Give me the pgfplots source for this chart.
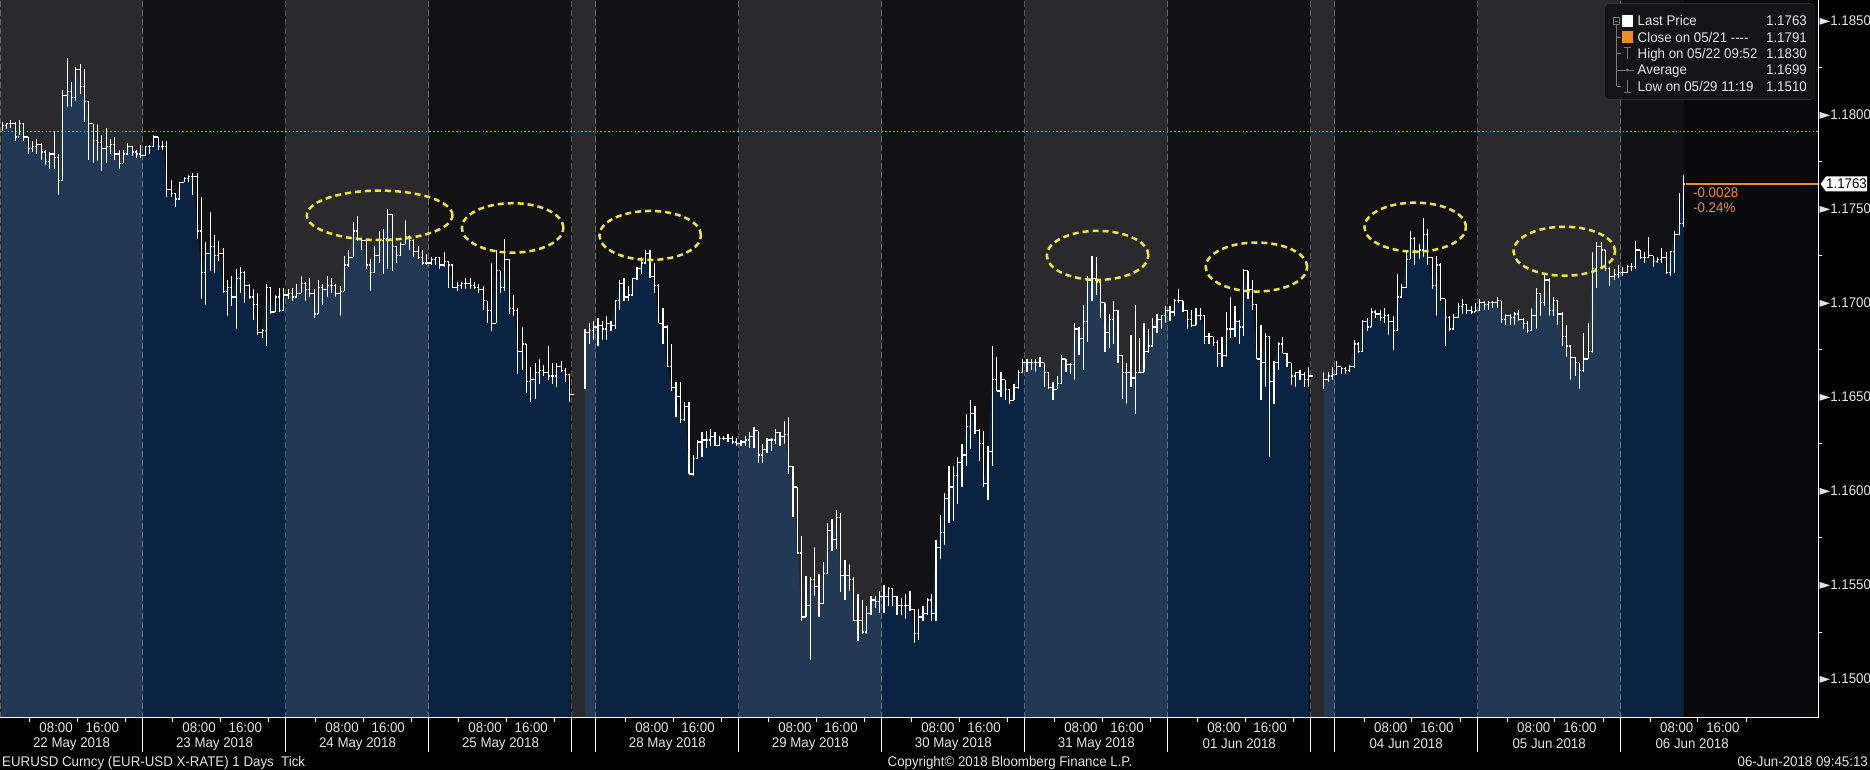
\documentclass[border=0pt]{standalone}
\usepackage{fontspec}
\setmainfont{Liberation Sans}[FakeStretch=0.95]
\newfontfamily\sym{DejaVu Sans}
\usepackage{pgfplots}
\pgfplotsset{compat=1.18}
\usepackage{pgfplotstable}

\definecolor{bgdark}{RGB}{18,18,21}
\definecolor{bgend}{RGB}{10,10,13}
\definecolor{mtn}{RGB}{10,35,66}
\definecolor{bbgorange}{RGB}{236,142,40}
\definecolor{ring}{RGB}{240,228,60}
\definecolor{txt}{RGB}{228,228,228}
\definecolor{legbg}{RGB}{20,20,24}
\definecolor{legline}{RGB}{62,62,68}
\definecolor{treegray}{RGB}{120,120,126}

% close tick of a bar plus the open tick of the next bar (open = previous close)
\pgfdeclareplotmark{oc}{%
  \pgfpathmoveto{\pgfqpoint{0pt}{0pt}}\pgfpathlineto{\pgfqpoint{1.9pt}{0pt}}%
  \pgfpathmoveto{\pgfqpoint{2.45pt}{0pt}}\pgfpathlineto{\pgfqpoint{4.33pt}{0pt}}%
  \pgfusepathqstroke}

% x = bar slot (33 slots per day, weekends squeezed), h/l/c = high, low, close
\pgfplotstableread{
x h l c
0.5 1.1796 1.1791 1.1794
1.5 1.1795 1.1792 1.1795
2.5 1.1797 1.1793 1.1795
3.5 1.1796 1.1786 1.1788
4.5 1.1797 1.1789 1.1795
5.5 1.1795 1.1786 1.1788
6.5 1.1788 1.1779 1.1782
7.5 1.1786 1.1780 1.1783
8.5 1.1787 1.1779 1.1784
9.5 1.1785 1.1776 1.1780
10.5 1.1781 1.1773 1.1775
11.5 1.1780 1.1771 1.1779
12.5 1.1791 1.1771 1.1777
13.5 1.1779 1.1757 1.1765
14.5 1.1813 1.1765 1.1810
15.5 1.1830 1.1804 1.1812
16.5 1.1817 1.1804 1.1809
17.5 1.1825 1.1807 1.1824
18.5 1.1827 1.1811 1.1815
19.5 1.1824 1.1796 1.1807
20.5 1.1807 1.1776 1.1795
21.5 1.1795 1.1774 1.1786
22.5 1.1795 1.1775 1.1785
23.5 1.1789 1.1770 1.1782
24.5 1.1793 1.1774 1.1783
25.5 1.1787 1.1779 1.1784
26.5 1.1788 1.1776 1.1779
27.5 1.1781 1.1771 1.1774
28.5 1.1781 1.1774 1.1779
29.5 1.1785 1.1779 1.1783
30.5 1.1783 1.1778 1.1780
31.5 1.1781 1.1777 1.1779
32.5 1.1784 1.1777 1.1778
33.5 1.1783 1.1778 1.1783
34.5 1.1784 1.1779 1.1783
35.5 1.1789 1.1783 1.1788
36.5 1.1788 1.1781 1.1783
37.5 1.1786 1.1781 1.1783
38.5 1.1786 1.1756 1.1760
39.5 1.1765 1.1756 1.1758
40.5 1.1758 1.1751 1.1755
41.5 1.1764 1.1755 1.1764
42.5 1.1767 1.1764 1.1766
43.5 1.1768 1.1764 1.1767
44.5 1.1769 1.1757 1.1767
45.5 1.1769 1.1734 1.1738
46.5 1.1756 1.1702 1.1716
47.5 1.1732 1.1699 1.1726
48.5 1.1748 1.1717 1.1730
49.5 1.1736 1.1716 1.1725
50.5 1.1733 1.1722 1.1726
51.5 1.1729 1.1705 1.1706
52.5 1.1712 1.1693 1.1708
53.5 1.1714 1.1698 1.1703
54.5 1.1718 1.1686 1.1713
55.5 1.1719 1.1705 1.1716
56.5 1.1717 1.1700 1.1709
57.5 1.1710 1.1702 1.1703
58.5 1.1707 1.1691 1.1699
59.5 1.1705 1.1683 1.1684
60.5 1.1686 1.1681 1.1685
61.5 1.1710 1.1677 1.1708
62.5 1.1708 1.1694 1.1695
63.5 1.1704 1.1695 1.1703
64.5 1.1708 1.1695 1.1696
65.5 1.1708 1.1696 1.1704
66.5 1.1707 1.1702 1.1705
67.5 1.1708 1.1701 1.1703
68.5 1.1710 1.1703 1.1705
69.5 1.1714 1.1705 1.1710
70.5 1.1711 1.1701 1.1707
71.5 1.1713 1.1703 1.1705
72.5 1.1707 1.1692 1.1694
73.5 1.1712 1.1694 1.1708
74.5 1.1710 1.1699 1.1707
75.5 1.1714 1.1703 1.1709
76.5 1.1713 1.1705 1.1709
77.5 1.1710 1.1703 1.1705
78.5 1.1709 1.1693 1.1706
79.5 1.1725 1.1706 1.1720
80.5 1.1728 1.1719 1.1724
81.5 1.1743 1.1724 1.1738
82.5 1.1746 1.1733 1.1734
83.5 1.1735 1.1728 1.1733
84.5 1.1733 1.1718 1.1720
85.5 1.1723 1.1706 1.1716
86.5 1.1730 1.1716 1.1725
87.5 1.1738 1.1721 1.1733
88.5 1.1739 1.1715 1.1734
89.5 1.1750 1.1718 1.1747
90.5 1.1747 1.1717 1.1730
91.5 1.1730 1.1721 1.1725
92.5 1.1732 1.1725 1.1731
93.5 1.1744 1.1731 1.1735
94.5 1.1736 1.1728 1.1733
95.5 1.1734 1.1724 1.1727
96.5 1.1730 1.1723 1.1724
97.5 1.1728 1.1720 1.1721
98.5 1.1726 1.1720 1.1721
99.5 1.1724 1.1720 1.1723
100.5 1.1724 1.1720 1.1724
101.5 1.1724 1.1718 1.1720
102.5 1.1727 1.1719 1.1722
103.5 1.1722 1.1708 1.1720
104.5 1.1720 1.1708 1.1708
105.5 1.1711 1.1706 1.1709
106.5 1.1711 1.1707 1.1710
107.5 1.1713 1.1707 1.1710
108.5 1.1713 1.1707 1.1709
109.5 1.1711 1.1707 1.1708
110.5 1.1710 1.1705 1.1707
111.5 1.1709 1.1696 1.1701
112.5 1.1701 1.1689 1.1696
113.5 1.1721 1.1685 1.1689
114.5 1.1728 1.1689 1.1717
115.5 1.1717 1.1705 1.1708
116.5 1.1734 1.1706 1.1723
117.5 1.1723 1.1694 1.1697
118.5 1.1704 1.1693 1.1696
119.5 1.1697 1.1662 1.1674
120.5 1.1687 1.1664 1.1678
121.5 1.1678 1.1652 1.1658
122.5 1.1666 1.1647 1.1659
123.5 1.1668 1.1649 1.1663
124.5 1.1670 1.1657 1.1664
125.5 1.1667 1.1661 1.1663
126.5 1.1677 1.1659 1.1661
127.5 1.1668 1.1657 1.1661
128.5 1.1668 1.1655 1.1666
129.5 1.1669 1.1663 1.1664
130.5 1.1665 1.1658 1.1662
131.5 1.1662 1.1647 1.1651
}\wkA

\pgfplotstableread{
x h l c
135 1.1686 1.1654 1.1684
136 1.1689 1.1678 1.1685
137 1.1690 1.1680 1.1687
138 1.1692 1.1677 1.1688
139 1.1690 1.1680 1.1686
140 1.1693 1.1680 1.1689
141 1.1690 1.1685 1.1688
142 1.1701 1.1686 1.1701
143 1.1712 1.1696 1.1710
144 1.1713 1.1701 1.1703
145 1.1709 1.1701 1.1704
146 1.1713 1.1704 1.1713
147 1.1719 1.1712 1.1718
148 1.1724 1.1715 1.1721
149 1.1728 1.1721 1.1726
150 1.1728 1.1713 1.1714
151 1.1721 1.1705 1.1709
152 1.1710 1.1689 1.1689
153 1.1697 1.1678 1.1687
154 1.1688 1.1666 1.1666
155 1.1678 1.1653 1.1655
156 1.1658 1.1639 1.1650
157 1.1658 1.1636 1.1638
158 1.1647 1.1637 1.1645
159 1.1647 1.1609 1.1609
160 1.1619 1.1608 1.1617
161 1.1627 1.1617 1.1626
162 1.1631 1.1618 1.1627
163 1.1632 1.1623 1.1627
164 1.1633 1.1624 1.1629
165 1.1631 1.1624 1.1624
166 1.1629 1.1624 1.1628
167 1.1629 1.1627 1.1628
168 1.1630 1.1626 1.1628
169 1.1629 1.1625 1.1626
170 1.1628 1.1624 1.1625
171 1.1627 1.1624 1.1626
172 1.1629 1.1624 1.1627
173 1.1631 1.1623 1.1629
174 1.1634 1.1623 1.1632
175 1.1632 1.1615 1.1619
176 1.1625 1.1615 1.1622
177 1.1628 1.1620 1.1627
178 1.1628 1.1621 1.1627
179 1.1633 1.1625 1.1631
180 1.1631 1.1624 1.1629
181 1.1637 1.1625 1.1630
182 1.1639 1.1609 1.1613
183 1.1613 1.1586 1.1602
184 1.1602 1.1567 1.1567
185 1.1576 1.1531 1.1533
186 1.1555 1.1533 1.1539
187 1.1554 1.1510 1.1553
188 1.1570 1.1544 1.1549
189 1.1556 1.1533 1.1540
190 1.1562 1.1540 1.1556
191 1.1583 1.1556 1.1579
192 1.1585 1.1568 1.1574
193 1.1590 1.1569 1.1586
194 1.1588 1.1546 1.1555
195 1.1563 1.1542 1.1555
196 1.1561 1.1547 1.1553
197 1.1554 1.1531 1.1531
198 1.1545 1.1520 1.1531
199 1.1542 1.1524 1.1525
200 1.1539 1.1524 1.1535
201 1.1544 1.1534 1.1542
202 1.1544 1.1538 1.1541
203 1.1547 1.1535 1.1544
204 1.1550 1.1535 1.1544
205 1.1549 1.1539 1.1548
206 1.1548 1.1539 1.1544
207 1.1544 1.1534 1.1539
208 1.1543 1.1534 1.1539
209 1.1545 1.1532 1.1539
210 1.1547 1.1536 1.1537
211 1.1537 1.1519 1.1524
212 1.1537 1.1521 1.1533
213 1.1539 1.1531 1.1535
214 1.1543 1.1534 1.1542
215 1.1545 1.1531 1.1535
216 1.1574 1.1531 1.1570
217 1.1587 1.1564 1.1578
218 1.1599 1.1571 1.1596
219 1.1613 1.1583 1.1602
220 1.1613 1.1584 1.1608
221 1.1618 1.1593 1.1615
222 1.1625 1.1602 1.1619
223 1.1641 1.1613 1.1634
224 1.1648 1.1622 1.1641
225 1.1645 1.1630 1.1632
226 1.1633 1.1616 1.1625
227 1.1632 1.1602 1.1604
228 1.1624 1.1595 1.1621
229 1.1677 1.1613 1.1659
230 1.1671 1.1653 1.1653
231 1.1663 1.1650 1.1659
232 1.1659 1.1648 1.1654
233 1.1654 1.1646 1.1648
234 1.1657 1.1648 1.1655
235 1.1664 1.1654 1.1663
236 1.1670 1.1663 1.1668
237 1.1670 1.1663 1.1668
238 1.1670 1.1664 1.1668
239 1.1670 1.1663 1.1668
240 1.1671 1.1666 1.1668
241 1.1668 1.1655 1.1663
242 1.1663 1.1654 1.1655
243 1.1658 1.1648 1.1654
244 1.1661 1.1654 1.1657
245 1.1672 1.1657 1.1670
246 1.1670 1.1663 1.1667
247 1.1668 1.1662 1.1667
248 1.1689 1.1659 1.1686
249 1.1687 1.1672 1.1681
250 1.1699 1.1664 1.1690
251 1.1714 1.1679 1.1712
252 1.1725 1.1701 1.1713
253 1.1724 1.1704 1.1711
254 1.1711 1.1692 1.1700
255 1.1700 1.1674 1.1684
256 1.1694 1.1676 1.1691
257 1.1701 1.1678 1.1696
258 1.1696 1.1668 1.1672
259 1.1672 1.1649 1.1663
260 1.1668 1.1646 1.1663
261 1.1683 1.1655 1.1660
262 1.1699 1.1641 1.1663
263 1.1681 1.1663 1.1663
264 1.1689 1.1663 1.1674
265 1.1686 1.1673 1.1677
266 1.1692 1.1677 1.1687
267 1.1694 1.1684 1.1691
268 1.1693 1.1686 1.1693
269 1.1698 1.1689 1.1696
270 1.1698 1.1690 1.1695
271 1.1702 1.1693 1.1701
272 1.1707 1.1700 1.1701
273 1.1701 1.1695 1.1696
274 1.1696 1.1686 1.1691
275 1.1696 1.1687 1.1688
276 1.1697 1.1688 1.1693
277 1.1697 1.1691 1.1693
278 1.1693 1.1678 1.1682
279 1.1684 1.1678 1.1682
280 1.1682 1.1677 1.1679
281 1.1680 1.1666 1.1673
282 1.1682 1.1666 1.1672
283 1.1695 1.1671 1.1686
284 1.1703 1.1681 1.1686
285 1.1698 1.1682 1.1690
286 1.1691 1.1678 1.1687
287 1.1718 1.1682 1.1717
288 1.1717 1.1702 1.1707
289 1.1712 1.1696 1.1699
290 1.1699 1.1670 1.1670
291 1.1688 1.1648 1.1668
292 1.1684 1.1655 1.1682
293 1.1682 1.1618 1.1658
294 1.1669 1.1646 1.1668
295 1.1679 1.1664 1.1678
296 1.1682 1.1673 1.1673
297 1.1673 1.1666 1.1668
298 1.1668 1.1656 1.1661
299 1.1663 1.1655 1.1663
300 1.1664 1.1659 1.1662
301 1.1663 1.1655 1.1659
302 1.1666 1.1655 1.1661
}\wkB

\pgfplotstableread{
x h l c
305.5 1.1663 1.1654 1.1659
306.5 1.1663 1.1658 1.1661
307.5 1.1666 1.1659 1.1662
308.5 1.1669 1.1662 1.1666
309.5 1.1666 1.1662 1.1665
310.5 1.1666 1.1662 1.1664
311.5 1.1667 1.1663 1.1666
312.5 1.1680 1.1665 1.1678
313.5 1.1679 1.1673 1.1674
314.5 1.1691 1.1674 1.1690
315.5 1.1692 1.1685 1.1687
316.5 1.1697 1.1687 1.1695
317.5 1.1696 1.1692 1.1694
318.5 1.1696 1.1690 1.1692
319.5 1.1697 1.1689 1.1693
320.5 1.1694 1.1683 1.1690
321.5 1.1693 1.1675 1.1685
322.5 1.1715 1.1685 1.1703
323.5 1.1710 1.1703 1.1708
324.5 1.1727 1.1708 1.1723
325.5 1.1738 1.1723 1.1734
326.5 1.1735 1.1720 1.1727
327.5 1.1731 1.1723 1.1728
328.5 1.1745 1.1724 1.1736
329.5 1.1739 1.1720 1.1724
330.5 1.1724 1.1707 1.1709
331.5 1.1725 1.1693 1.1720
332.5 1.1721 1.1701 1.1702
333.5 1.1702 1.1677 1.1692
334.5 1.1693 1.1685 1.1686
335.5 1.1694 1.1686 1.1692
336.5 1.1700 1.1692 1.1698
337.5 1.1702 1.1694 1.1699
338.5 1.1699 1.1694 1.1696
339.5 1.1698 1.1694 1.1695
340.5 1.1700 1.1695 1.1696
341.5 1.1702 1.1696 1.1700
342.5 1.1701 1.1696 1.1699
343.5 1.1701 1.1696 1.1700
344.5 1.1701 1.1697 1.1700
345.5 1.1703 1.1697 1.1701
346.5 1.1701 1.1689 1.1691
347.5 1.1694 1.1688 1.1693
348.5 1.1694 1.1688 1.1692
349.5 1.1695 1.1688 1.1694
350.5 1.1696 1.1690 1.1691
351.5 1.1692 1.1686 1.1689
352.5 1.1690 1.1684 1.1685
353.5 1.1697 1.1685 1.1693
354.5 1.1708 1.1686 1.1705
355.5 1.1705 1.1693 1.1700
356.5 1.1716 1.1698 1.1712
357.5 1.1713 1.1693 1.1696
358.5 1.1703 1.1693 1.1701
359.5 1.1701 1.1688 1.1694
360.5 1.1695 1.1677 1.1682
361.5 1.1688 1.1671 1.1677
362.5 1.1677 1.1659 1.1671
363.5 1.1671 1.1661 1.1668
364.5 1.1668 1.1654 1.1664
365.5 1.1684 1.1663 1.1670
366.5 1.1689 1.1670 1.1674
367.5 1.1727 1.1673 1.1718
368.5 1.1732 1.1708 1.1730
369.5 1.1732 1.1718 1.1728
370.5 1.1728 1.1717 1.1718
371.5 1.1719 1.1709 1.1714
372.5 1.1718 1.1712 1.1715
373.5 1.1720 1.1713 1.1716
374.5 1.1719 1.1714 1.1716
375.5 1.1720 1.1716 1.1719
376.5 1.1721 1.1717 1.1719
377.5 1.1733 1.1718 1.1728
378.5 1.1728 1.1723 1.1724
379.5 1.1727 1.1721 1.1724
380.5 1.1735 1.1724 1.1725
381.5 1.1725 1.1719 1.1722
382.5 1.1724 1.1721 1.1723
383.5 1.1729 1.1721 1.1724
384.5 1.1727 1.1715 1.1716
385.5 1.1727 1.1714 1.1727
386.5 1.1738 1.1716 1.1736
387.5 1.1758 1.1736 1.1742
388.5 1.1768 1.1740 1.1763
}\wkC

\begin{document}
\begin{tikzpicture}[font=\fontsize{14}{16}\selectfont]
\useasboundingbox (0,0) rectangle (1870pt,770pt);
\fill[black] (0,0) rectangle (1870pt,770pt);

\begin{axis}[
  at={(0pt,52pt)}, anchor=south west,
  scale only axis, width=1818pt, height=718pt,
  xmin=0, xmax=419.55,
  ymin=1.14793, ymax=1.18608,
  axis x line*=bottom, axis y line*=right,
  axis line style={white, line width=1pt},
  axis on top, clip mode=individual,
  tick align=outside,
  major tick length=0pt, minor tick length=4pt,
  tick style={white, line width=0.8pt},
  every tick label/.append style={text=txt, font=\fontsize{14}{16}\selectfont},
  xtick={12.95,23.6,45.95,56.6,78.95,89.6,111.95,122.6,150.45,161.1,183.45,194.1,
         216.45,227.1,249.45,260.1,282.45,293.1,320.95,331.6,353.95,364.6,386.95,397.6},
  xticklabels={08:00,16:00,08:00,16:00,08:00,16:00,08:00,16:00,08:00,16:00,08:00,16:00,
               08:00,16:00,08:00,16:00,08:00,16:00,08:00,16:00,08:00,16:00,08:00,16:00},
  minor xtick={6.8,17.8,29,39.8,50.8,62,72.8,83.8,95,105.8,116.8,128,
               144.3,155.3,166.5,177.3,188.3,199.5,210.3,221.3,232.5,243.3,254.3,265.5,
               276.3,287.3,298.5,314.8,325.8,337,347.8,358.8,370,380.8,391.8,403},
  xticklabel style={anchor=center, yshift=-10pt},
  extra x ticks={16.5,49.5,82.5,115.5,154,187,220,253,286,324.5,357.5,390.5},
  extra x tick labels={22 May 2018,23 May 2018,24 May 2018,25 May 2018,28 May 2018,29 May 2018,
                       30 May 2018,31 May 2018,01 Jun 2018,04 Jun 2018,05 Jun 2018,06 Jun 2018},
  extra x tick style={tick label style={yshift=-16pt}},
  ytick={1.15,1.155,1.16,1.165,1.17,1.175,1.18,1.185},
  yticklabels={{\sym ►}1.1500,{\sym ►}1.1550,{\sym ►}1.1600,{\sym ►}1.1650,
               {\sym ►}1.1700,{\sym ►}1.1750,{\sym ►}1.1800,{\sym ►}1.1850},
  minor ytick={1.1525,1.1575,1.1625,1.1675,1.1725,1.1775,1.1825},
  yticklabel style={anchor=west, xshift=-2pt},
]

% backgrounds
\fill[bgdark] (axis cs:0,1.14793) rectangle (axis cs:419.55,1.18608);
\fill[bgend] (axis cs:388.6,1.14793) rectangle (axis cs:419.55,1.18608);

% mountain under the close
\addplot[draw=none, fill=mtn] table[x=x, y=c] {\wkA} \closedcycle;
\addplot[draw=none, fill=mtn] table[x=x, y=c] {\wkB} \closedcycle;
\addplot[draw=none, fill=mtn] table[x=x, y=c] {\wkC} \closedcycle;

% alternate day shading
\pgfplotsinvokeforeach{0/33,66/99,132/137.5,170.5/203.5,236.5/269.5,302.5/308,341/374}{
  \pgfplotsextra{\foreach \a/\b in {#1} {
    \fill[white, opacity=0.1] (axis cs:\a,1.14793) rectangle (axis cs:\b,1.18608);}}
}
% day separators
\pgfplotsinvokeforeach{0,33,66,99,132,137.5,170.5,203.5,236.5,269.5,302.5,308,341,374}{
  \draw[white, opacity=0.3, line width=1pt, dash pattern=on 6pt off 3pt]
    (axis cs:#1,1.14793) -- (axis cs:#1,1.18608);
}
% below-axis day dividers
\pgfplotsinvokeforeach{33,66,99,132,137.5,170.5,203.5,236.5,269.5,302.5,308,341,374}{
  \draw[white, line width=1pt] (axis cs:#1,1.14793) -- ++(0pt,-34pt);
}

% close on 05/21
\addplot[bbgorange, line width=1.6pt, dash pattern=on 1.6pt off 2.2pt]
  coordinates {(0,1.1791) (419.55,1.1791)};

% bars: high-low line, close tick (and next open tick)
\addplot[white, only marks, mark=oc, mark options={line width=1.25pt},
  error bars/.cd, y dir=both, y explicit, error mark=none,
  error bar style={line width=1.25pt, white}]
  table[x=x, y=c, y error plus expr=\thisrow{h}-\thisrow{c},
        y error minus expr=\thisrow{c}-\thisrow{l}] {\wkA};
\addplot[white, only marks, mark=oc, mark options={line width=1.25pt},
  error bars/.cd, y dir=both, y explicit, error mark=none,
  error bar style={line width=1.25pt, white}]
  table[x=x, y=c, y error plus expr=\thisrow{h}-\thisrow{c},
        y error minus expr=\thisrow{c}-\thisrow{l}] {\wkB};
\addplot[white, only marks, mark=oc, mark options={line width=1.25pt},
  error bars/.cd, y dir=both, y explicit, error mark=none,
  error bar style={line width=1.25pt, white}]
  table[x=x, y=c, y error plus expr=\thisrow{h}-\thisrow{c},
        y error minus expr=\thisrow{c}-\thisrow{l}] {\wkC};

% last price line
\addplot[bbgorange, line width=1.2pt] coordinates {(389,1.1763) (419.55,1.1763)};
\node[anchor=west, text=bbgorange, inner sep=0pt] at (axis cs:390.7,1.17583) {-0.0028};
\node[anchor=west, text=bbgorange, inner sep=0pt] at (axis cs:390.7,1.17502) {-0.24\%};

% annotations
\draw[ring, line width=2.5pt, dash pattern=on 6pt off 4pt]
  (axis cs:87.6,1.17464) ellipse [x radius=72.8pt, y radius=24.7pt];
\draw[ring, line width=2.5pt, dash pattern=on 6pt off 4pt]
  (axis cs:118.3,1.17397) ellipse [x radius=50.8pt, y radius=24.7pt];
\draw[ring, line width=2.5pt, dash pattern=on 6pt off 4pt]
  (axis cs:150.05,1.17357) ellipse [x radius=50.8pt, y radius=24.5pt];
\draw[ring, line width=2.5pt, dash pattern=on 6pt off 4pt]
  (axis cs:253.3,1.17251) ellipse [x radius=50.8pt, y radius=24.5pt];
\draw[ring, line width=2.5pt, dash pattern=on 6pt off 4pt]
  (axis cs:289.96,1.17189) ellipse [x radius=50.8pt, y radius=24.5pt];
\draw[ring, line width=2.5pt, dash pattern=on 6pt off 4pt]
  (axis cs:326.6,1.17401) ellipse [x radius=50.8pt, y radius=24.5pt];
\draw[ring, line width=2.5pt, dash pattern=on 6pt off 4pt]
  (axis cs:361.0,1.17273) ellipse [x radius=50.8pt, y radius=24.5pt];
\end{axis}

% last price tag on the axis
\fill[white] (1820.5pt,586pt) -- (1826pt,593.5pt) -- (1867pt,593.5pt) -- (1867pt,578.5pt) -- (1826pt,578.5pt) -- cycle;
\node[text=black, inner sep=0pt] at (1846.5pt,586pt) {1.1763};

% legend box
\filldraw[fill=legbg, draw=legline, rounded corners=4pt] (1604.7pt,670.3pt) rectangle (1814pt,766.6pt);
\draw[treegray, line width=0.8pt] (1616.5pt,745pt) -- (1616.5pt,683.8pt);
\foreach \yy in {732.8,716.9,700,683.8} \draw[treegray, line width=0.8pt] (1616.5pt,\yy pt) -- (1621pt,\yy pt);
\draw[treegray, line width=0.8pt] (1613.2pt,745.7pt) rectangle (1619.8pt,752.3pt);
\draw[treegray, line width=0.8pt] (1614.6pt,749pt) -- (1618.4pt,749pt);
\fill[white] (1621.6pt,743.1pt) rectangle (1633.4pt,754.9pt);
\fill[bbgorange] (1621.6pt,726.9pt) rectangle (1633.4pt,738.7pt);
\draw[treegray, line width=0.9pt] (1627.5pt,711pt) -- (1627.5pt,722.5pt) (1624pt,722.5pt) -- (1631pt,722.5pt);
\draw[treegray, line width=0.9pt] (1621pt,700pt) -- (1634pt,700pt);
\fill[treegray] (1627.5pt,700pt) circle (1.6pt);
\draw[treegray, line width=0.9pt] (1627.5pt,678pt) -- (1627.5pt,689.5pt) (1624pt,678pt) -- (1631pt,678pt);
\begin{scope}[every node/.style={inner sep=0pt, text=txt}]
\node[anchor=base west] at (1637.5pt,744pt) {Last Price};
\node[anchor=base west] at (1637.5pt,727.8pt) {Close on 05/21 -{}-{}-{}-};
\node[anchor=base west] at (1637.5pt,711.9pt) {High on 05/22 09:52};
\node[anchor=base west] at (1637.5pt,695pt) {Average};
\node[anchor=base west] at (1637.5pt,678.8pt) {Low on 05/29 11:19};
\node[anchor=base east] at (1807pt,744pt) {1.1763};
\node[anchor=base east] at (1807pt,727.8pt) {1.1791};
\node[anchor=base east] at (1807pt,711.9pt) {1.1830};
\node[anchor=base east] at (1807pt,695pt) {1.1699};
\node[anchor=base east] at (1807pt,678.8pt) {1.1510};

% footer
\node[anchor=base west] at (2pt,3.5pt) {EURUSD Curncy (EUR-USD X-RATE) 1 Days\ \ Tick};
\node[anchor=base] at (1010pt,3.5pt) {Copyright© 2018 Bloomberg Finance L.P.};
\node[anchor=base east] at (1868pt,3.5pt) {06-Jun-2018 09:45:13};
\end{scope}
\end{tikzpicture}
\end{document}
